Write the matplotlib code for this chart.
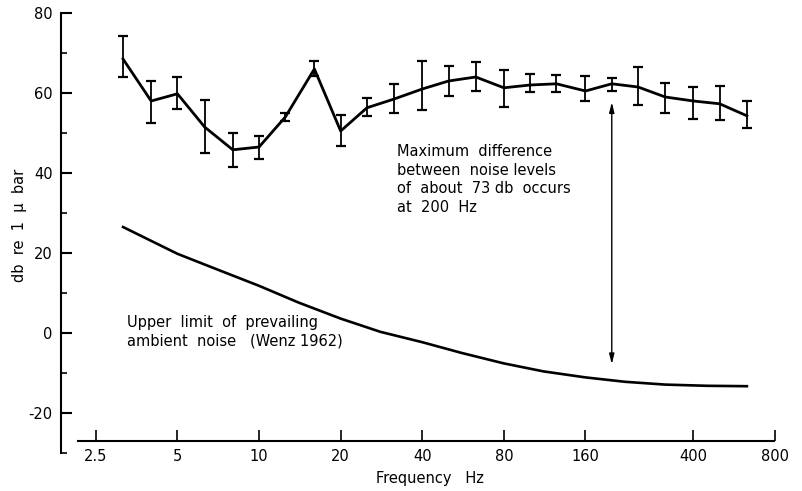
import matplotlib
matplotlib.use("Agg")
import matplotlib.pyplot as plt
from matplotlib.ticker import FixedLocator, FixedFormatter, NullLocator

plt.rcParams['axes.unicode_minus'] = False
plt.rcParams['font.family'] = ['DejaVu Sans']

# Third-octave band centre frequencies (Hz)
freqs = [3.15, 4, 5, 6.3, 8, 10, 12.5, 16, 20, 25, 31.5, 40, 50, 63,
         80, 100, 125, 160, 200, 250, 315, 400, 500, 630]
# Measured noise levels (db re 1 ubar)
levels = [68.5, 58.0, 59.8, 51.5, 45.8, 46.5, 54.0, 66.0, 50.5, 56.3, 58.5, 61.0,
          63.0, 64.0, 61.3, 62.0, 62.3, 60.5, 62.3, 61.5, 59.0, 58.0, 57.3, 54.3]
upper = [74.3, 63.0, 64.0, 58.3, 50.0, 49.3, 55.0, 68.0, 54.5, 58.8, 62.3, 68.0,
         66.8, 67.8, 65.8, 64.8, 64.5, 64.3, 63.8, 66.5, 62.5, 61.5, 61.8, 58.0]
lower = [64.0, 52.5, 56.0, 45.0, 41.5, 43.5, 53.0, 64.3, 46.8, 54.3, 55.0, 55.8,
         59.3, 60.5, 56.5, 60.3, 60.3, 58.0, 60.5, 57.0, 55.0, 53.5, 53.3, 51.3]

# Upper limit of prevailing ambient noise (Wenz 1962)
wenz_freqs = [3.15, 5, 7, 10, 14, 20, 28, 40, 56, 80, 112, 160, 224, 315, 450, 630]
wenz_levels = [26.5, 19.8, 15.9, 11.8, 7.6, 3.6, 0.3, -2.3, -5.0, -7.6, -9.6,
               -11.1, -12.2, -12.9, -13.2, -13.3]

xticks = [2.5, 5, 10, 20, 40, 80, 160, 400, 800]
xticklabels = ["2.5", "5", "10", "20", "40", "80", "160", "400", "800"]
yticks = [-20, 0, 20, 40, 60, 80]
yticklabels = ["-20", "0", "20", "40", "60", "80"]
yminor = [-30, -10, 10, 30, 50, 70]

fig = plt.figure(figsize=(8.02, 4.91), dpi=100)
ax = fig.add_axes([61/802, 1-453/491, (775-61)/802, (453-13)/491])

ax.set_xscale('log')
ax.set_xlim(1.86, 800)
ax.set_ylim(-30, 80)

yerr = [[l - lo for l, lo in zip(levels, lower)], [u - l for l, u in zip(levels, upper)]]
ax.errorbar(freqs, levels, yerr=yerr, color='black', lw=2.0, elinewidth=1.3,
            capsize=3.5, capthick=1.6, zorder=3)
ax.plot(wenz_freqs, wenz_levels, color='black', lw=1.9)

# double arrow at 200 Hz
ax.annotate("", xy=(200, -7.8), xytext=(200, 57.7),
            arrowprops=dict(arrowstyle='<|-|>,head_width=0.15,head_length=0.6',
                            color='black', lw=1.0, shrinkA=0, shrinkB=0))

ax.text(32.3, 47.2, "Maximum  difference\nbetween  noise levels\nof  about  73 db  occurs\nat  200  Hz",
        ha='left', va='top', fontsize=10.5, linespacing=1.3)
ax.text(3.26, 4.5, "Upper  limit  of  prevailing\nambient  noise   (Wenz 1962)",
        ha='left', va='top', fontsize=10.5, linespacing=1.3)

for s in ['top', 'right']:
    ax.spines[s].set_visible(False)
ax.spines['bottom'].set_position(('data', -27))
ax.spines['bottom'].set_bounds(2.15, 790)
ax.spines['left'].set_linewidth(1.5)
ax.spines['bottom'].set_linewidth(1.5)

ax.xaxis.set_major_locator(FixedLocator(xticks))
ax.xaxis.set_major_formatter(FixedFormatter(xticklabels))
ax.xaxis.set_minor_locator(NullLocator())
ax.yaxis.set_major_locator(FixedLocator(yticks))
ax.yaxis.set_major_formatter(FixedFormatter(yticklabels))
ax.yaxis.set_minor_locator(FixedLocator(yminor))

ax.tick_params(axis='x', which='major', direction='in', length=8, width=1.2,
               labelsize=10.5, pad=6)
ax.tick_params(axis='y', which='major', direction='in', length=8, width=1.5,
               labelsize=10.5, pad=6)
ax.tick_params(axis='y', which='minor', direction='in', length=4, width=1.2)

fig.text(20/802, 1-225/491, "db  re  1  \u03bc  bar", rotation=90, ha='center',
         va='center', fontsize=10.5)
fig.text(430/802, 1-478/491, "Frequency   Hz", ha='center', va='center', fontsize=10.5)

fig.savefig("out.png", dpi=100)
